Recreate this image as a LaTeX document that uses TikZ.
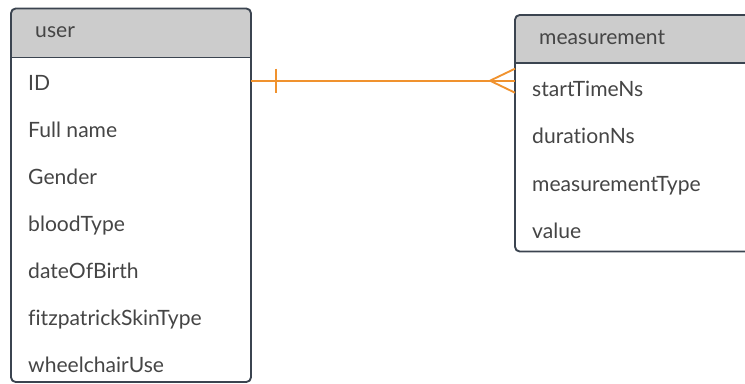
\documentclass[tikz,border=0pt]{standalone}
\usepackage{fontspec}
\setmainfont{Lato}[Ligatures=NoCommon]
\usetikzlibrary{fit}

\definecolor{framegray}{HTML}{3B4450}
\definecolor{headgray}{HTML}{CCCCCC}
\definecolor{textgray}{HTML}{454545}
\definecolor{linkorange}{HTML}{F0922E}

\begin{document}
\begin{tikzpicture}[
            x=0.03cm, y=-0.03cm,
            tablebox/.style={
                    draw=framegray,
                    line width=1.6pt,
                    rounded corners=4pt,
                    inner sep=0pt,
                    outer sep=0pt
                },
            head/.style={
                    anchor=base west,
                    inner sep=0pt,
                    text=textgray,
                    font=\fontsize{18}{21}\selectfont
                },
            field/.style={
                    head
                },
            relline/.style={
                    draw=linkorange,
                    line width=1.6pt,
                    line join=round
                }
        ]

        \clip (0,0) rectangle (745,383);


        % user table
        \fill[headgray, rounded corners=4pt] (11,8.5) rectangle (251,40);
        \fill[headgray] (11,25) rectangle (251,57.5);
        \node[tablebox, fit={(11,8.5) (251,382)}] (user) {};
        \draw[framegray, line width=1.6pt] (user.west |- 0,57.5) -- (user.east |- 0,57.5);

        \node[head] (usertitle) at (35,37.5) {user};
        \node[field] (uid) at (28,90) {ID};
        \node[field] (uname) at (28,137) {Full name};
        \node[field] (ugender) at (28,184) {Gender};
        \node[field] (ublood) at (28,231) {bloodType};
        \node[field] (ubirth) at (28,278) {dateOfBirth};
        \node[field] (uskin) at (28,325) {fitzpatrickSkinType};
        \node[field] (uwheel) at (28,372) {wheelchairUse};


        % measurement table
        \fill[headgray, rounded corners=4pt] (515,15) rectangle (765,45);
        \fill[headgray] (515,30) rectangle (765,63);
        \node[tablebox, fit={(515,15) (765,251.5)}] (meas) {};
        \draw[framegray, line width=1.6pt] (meas.west |- 0,63) -- (meas.east |- 0,63);

        \node[head] (meastitle) at (539,44.5) {measurement};
        \node[field] (mstart) at (532,96) {startTimeNs};
        \node[field] (mdur) at (532,143.5) {durationNs};
        \node[field] (mtype) at (532,191) {measurementType};
        \node[field] (mvalue) at (532,238.5) {value};


        % one user -- many measurements
        \coordinate (link) at (0,80.7);
        \draw[relline] (user.east |- link) -- (meas.west |- link);
        \draw[relline] (user.east |- link) ++(25,-12) -- ++(0,24);
        \draw[relline] (meas.west |- link) ++(0,-12) -- ++(-25,12) -- ++(25,12);


    \end{tikzpicture}
\end{document}
